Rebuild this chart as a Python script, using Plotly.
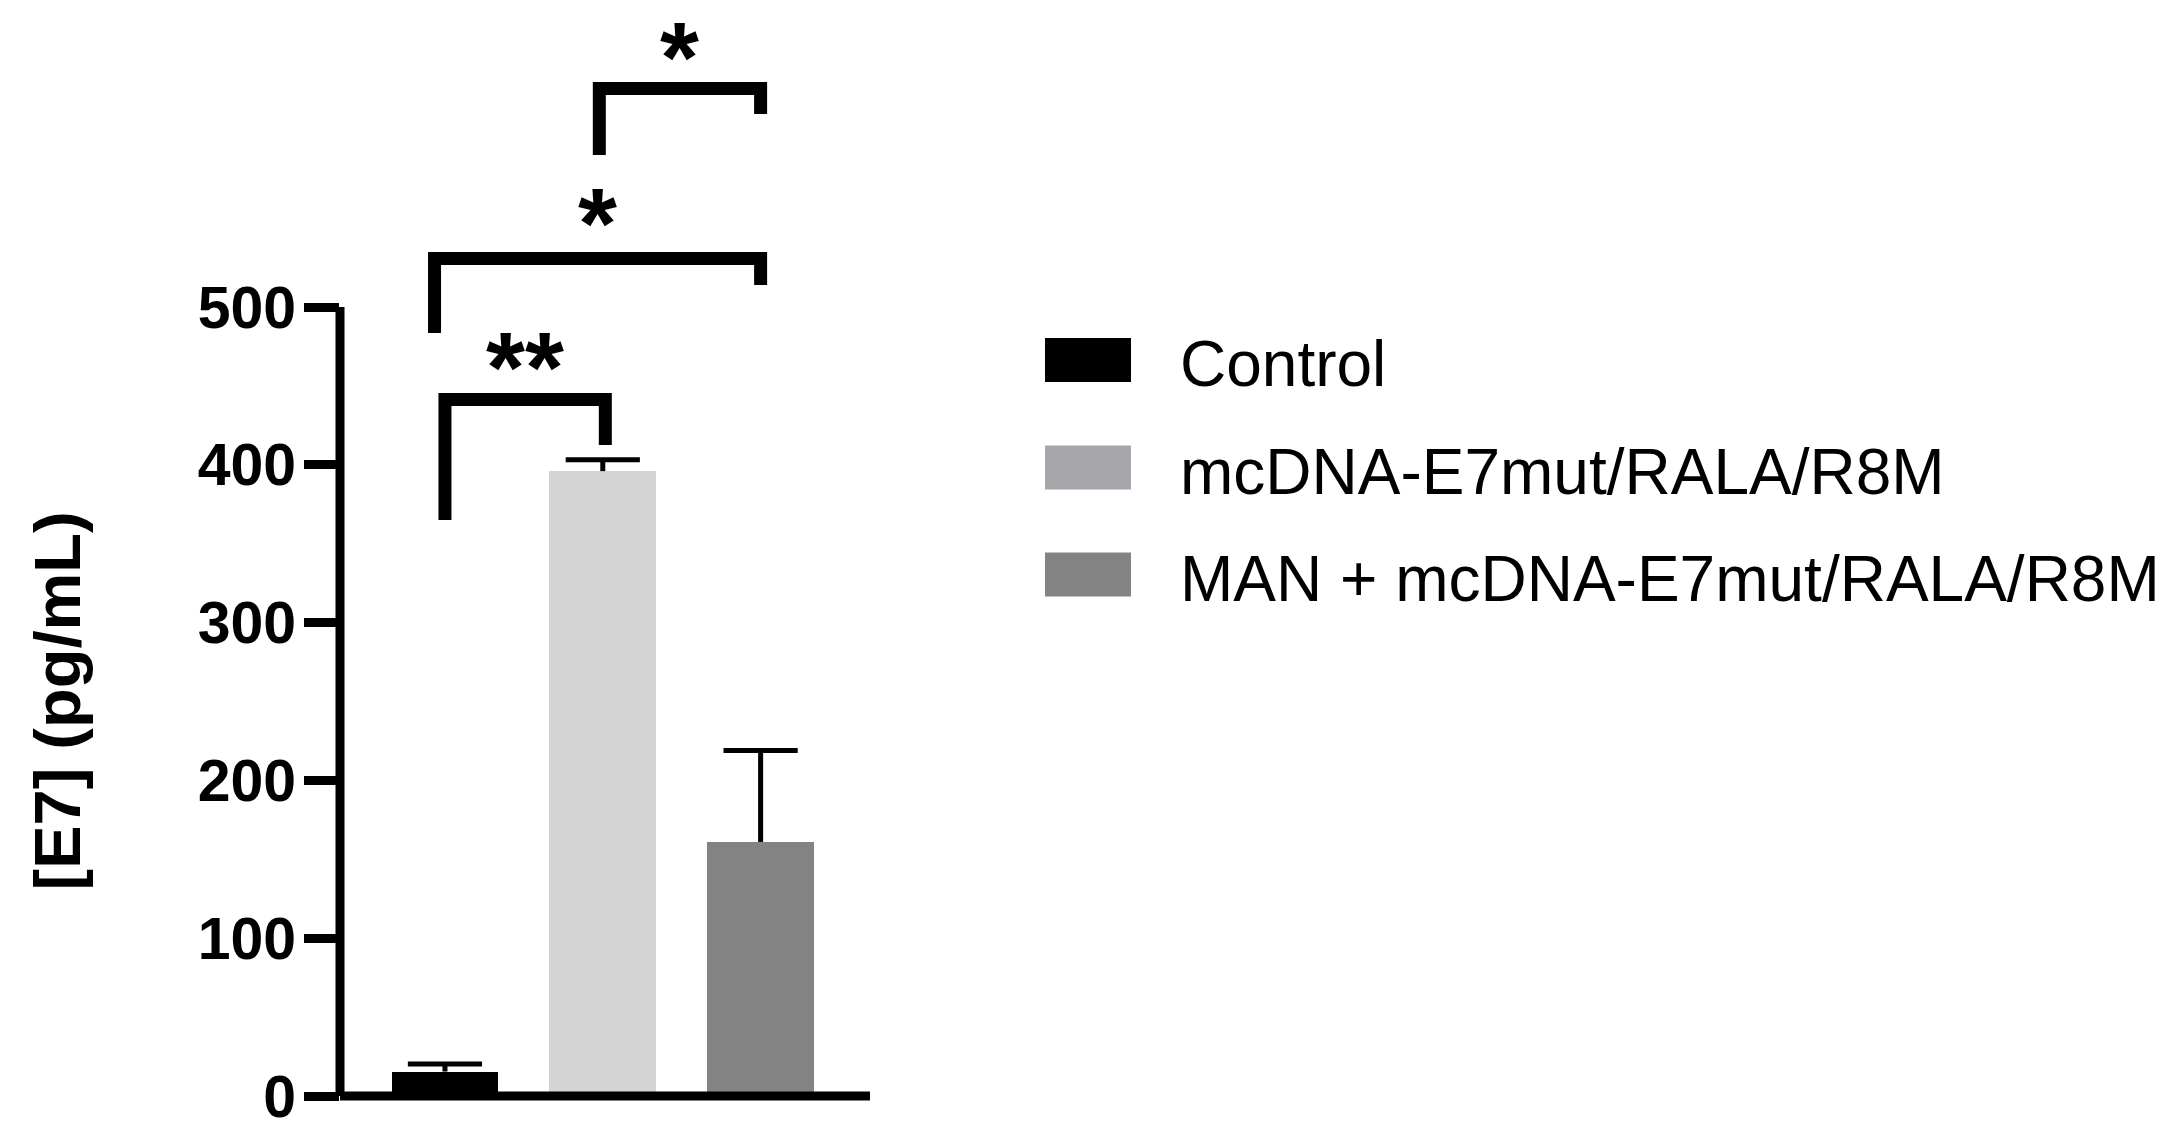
import plotly.graph_objects as go

# ---------------- data ----------------
categories = ["Control", "mcDNA-E7mut/RALA/R8M", "MAN + mcDNA-E7mut/RALA/R8M"]
means = [15.5, 396, 161]
err_up = [4.8, 7.2, 58]
bar_colors = ["#000000", "#d4d4d4", "#838383"]
legend_colors = ["#000000", "#a6a5aa", "#838383"]
y_ticks = [0, 100, 200, 300, 400, 500]
y_tick_text = ["0", "100", "200", "300", "400", "500"]

# significance comparisons: label, left group, right group
sig_labels = ["**", "*", "*"]
sig_left = [0, 0, 1]
sig_right = [1, 2, 2]
sig_bar_y = [441.4, 530.7, 638.5]       # horizontal bracket level (data units)
sig_left_end = [365, 483.5, 596.3]      # bottom of left leg
sig_right_end = [412.5, 514, 622.3]     # bottom of right leg
sig_label_y = [470.8, 561.8, 667.0]

# ---------------- layout constants ----------------
W, H = 2184, 1142
PLOT_L, PLOT_R, PLOT_T, PLOT_B = 340, 870, 0, 1096   # page pixels
PX_PER_UNIT = (1096 - 307) / 500
ML = PLOT_L
MR = W - PLOT_R
MT = PLOT_T
MB = H - PLOT_B
PW = PLOT_R - PLOT_L
PH = PLOT_B - PLOT_T
XMIN, XMAX = -0.665, 2.693
YMAX = PH / PX_PER_UNIT
FONT = "Liberation Sans, Arial, sans-serif"

# small x offsets of bracket legs relative to group centres
leg_dx_left = [0.0, -0.066, -0.022]
leg_dx_right = [0.016, 0.0, 0.0]


def px_to_paper_x(px):
    return (px - PLOT_L) / PW


def px_to_paper_y(py):
    return (PLOT_B - py) / PH


xs = list(range(len(categories)))
fig = go.Figure()
fig.add_trace(go.Bar(
    x=xs, y=means, width=0.677,
    marker=dict(color=bar_colors, line=dict(width=0)),
    showlegend=False, hoverinfo="skip",
))
# error bars (upper only, no lower cap)
stem_x, stem_y = [], []
for i, (m, e) in enumerate(zip(means, err_up)):
    stem_x += [i, i, None]
    stem_y += [m, m + e, None]
fig.add_trace(go.Scatter(x=stem_x, y=stem_y, mode="lines",
                         line=dict(color="black", width=5),
                         showlegend=False, hoverinfo="skip"))
fig.add_trace(go.Scatter(x=xs, y=[m + e for m, e in zip(means, err_up)],
                         mode="markers",
                         marker=dict(symbol="line-ew", size=53, color="black",
                                     line=dict(color="black", width=5)),
                         showlegend=False, hoverinfo="skip", cliponaxis=False))

shapes = []
# y axis line (0 -> 500)
shapes.append(dict(type="line", xref="paper", yref="paper",
                   x0=0, x1=0, y0=0, y1=max(y_ticks) / YMAX,
                   line=dict(color="black", width=9)))
# x axis line
shapes.append(dict(type="line", xref="paper", yref="paper",
                   x0=0, x1=1, y0=0, y1=0,
                   line=dict(color="black", width=9)))

annotations = []
for i in range(len(sig_labels)):
    xl = sig_left[i] + leg_dx_left[i]
    xr = sig_right[i] + leg_dx_right[i]
    path = (f"M {xl},{sig_left_end[i]} L {xl},{sig_bar_y[i]} "
            f"L {xr},{sig_bar_y[i]} L {xr},{sig_right_end[i]}")
    shapes.append(dict(type="path", xref="x", yref="y", path=path,
                       line=dict(color="black", width=13)))
    annotations.append(dict(x=(xl + xr) / 2, y=sig_label_y[i], xref="x", yref="y",
                            text=sig_labels[i], showarrow=False,
                            xanchor="center", yanchor="middle", yshift=-14,
                            font=dict(family=FONT, size=100, color="black",
                                      weight="bold")))

# manual legend
sw_x0, sw_x1 = 1045, 1131
sw_centers = [360, 467.5, 574.5]
for i, name in enumerate(categories):
    cy = sw_centers[i]
    shapes.append(dict(type="rect", xref="paper", yref="paper",
                       x0=px_to_paper_x(sw_x0), x1=px_to_paper_x(sw_x1),
                       y0=px_to_paper_y(cy + 22), y1=px_to_paper_y(cy - 22),
                       fillcolor=legend_colors[i], line=dict(width=0)))
    annotations.append(dict(x=px_to_paper_x(1178), y=px_to_paper_y(cy + 4),
                            xref="paper", yref="paper", text=name,
                            showarrow=False, xanchor="left", yanchor="middle",
                            font=dict(family=FONT, size=64, color="black")))

# y-axis title
annotations.append(dict(x=px_to_paper_x(57), y=250, xref="paper", yref="y",
                        text="<b>[E7] (pg/mL)</b>", textangle=-90, showarrow=False,
                        xanchor="center", yanchor="middle",
                        font=dict(family=FONT, size=65, color="black")))

fig.update_layout(
    width=W, height=H,
    margin=dict(l=ML, r=MR, t=MT, b=MB, autoexpand=False),
    plot_bgcolor="white", paper_bgcolor="white",
    shapes=shapes, annotations=annotations,
    showlegend=False,
    bargap=0,
)
fig.update_xaxes(range=[XMIN, XMAX], showticklabels=False, ticks="",
                 showgrid=False, zeroline=False, showline=False)
fig.update_yaxes(range=[0, YMAX], tickvals=y_ticks, ticktext=y_tick_text,
                 ticks="outside", ticklen=35, tickwidth=9, tickcolor="black",
                 ticklabelstandoff=-4,
                 tickfont=dict(family=FONT, size=59, color="black", weight="bold"),
                 showgrid=False, zeroline=False, showline=False)

# remove the default 8px page margin so the figure fills the window exactly
fig.write_html("out.html",
               config={"displayModeBar": False},
               post_script="document.body.style.margin='0';"
                           "document.body.style.overflow='hidden';")
